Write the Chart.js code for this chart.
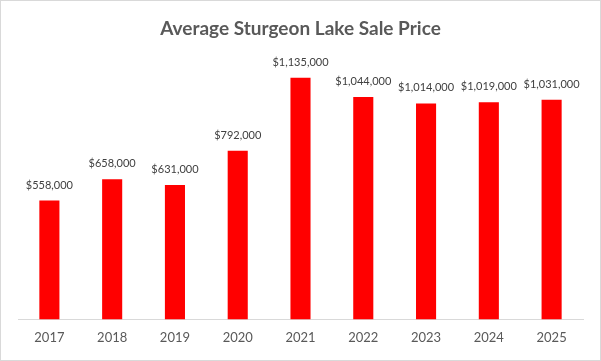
<!DOCTYPE html>
<html>
<head>
<meta charset="utf-8">
<script src="https://cdn.jsdelivr.net/npm/chart.js@4/dist/chart.umd.min.js"></script>
<style>
html,body{margin:0;padding:0;background:#fff;}
#wrap{width:601px;height:361px;position:relative;}
canvas{display:block;}
</style>
</head>
<body>
<div id="wrap"><canvas id="c" width="601" height="361"></canvas></div>
<script>
const categories = ["2017","2018","2019","2020","2021","2022","2023","2024","2025"];
const salePrices = [558000, 658000, 631000, 792000, 1135000, 1044000, 1014000, 1019000, 1031000];
const chartTitle = "Average Sturgeon Lake Sale Price";

function fmt(v){ return "$" + v.toLocaleString("en-US"); }

const labelPlugin = {
  id: "barLabels",
  afterDatasetsDraw(chart){
    const ctx = chart.ctx;
    const meta = chart.getDatasetMeta(0);
    ctx.save();
    ctx.font = "11px 'Lato', 'Liberation Sans', sans-serif";
    ctx.fillStyle = "#404040";
    ctx.textAlign = "center";
    ctx.textBaseline = "alphabetic";
    meta.data.forEach((bar, i) => {
      ctx.fillText(fmt(salePrices[i]), bar.x, bar.y - 12);
    });
    ctx.restore();
  }
};

const borderPlugin = {
  id: "outerBorder",
  afterDraw(chart){
    const ctx = chart.ctx;
    ctx.save();
    ctx.strokeStyle = "#d9d9d9";
    ctx.lineWidth = 1;
    ctx.strokeRect(0.5, 0.5, chart.width - 1, chart.height - 1);
    ctx.restore();
  }
};

new Chart(document.getElementById("c"), {
  type: "bar",
  data: {
    labels: categories,
    datasets: [{
      data: salePrices,
      backgroundColor: "#ff0000",
      barPercentage: 0.32,
      categoryPercentage: 1.0
    }]
  },
  options: {
    responsive: false,
    animation: false,
    layout: { padding: { left: 18, right: 18, top: 0, bottom: 4 } },
    plugins: {
      legend: { display: false },
      tooltip: { enabled: false },
      title: {
        display: true,
        text: chartTitle,
        color: "#595959",
        font: { family: "'Lato', 'Liberation Sans', sans-serif", size: 19, weight: "bold" },
        padding: { top: 17, bottom: 24 }
      }
    },
    scales: {
      x: {
        grid: { display: false, drawTicks: false },
        border: { color: "#d9d9d9", width: 1 },
        ticks: { color: "#595959", font: { family: "'Lato', 'Liberation Sans', sans-serif", size: 13 }, padding: 11 }
      },
      y: {
        display: false,
        min: 0,
        max: 1200000
      }
    }
  },
  plugins: [labelPlugin, borderPlugin]
});
</script>
</body>
</html>
